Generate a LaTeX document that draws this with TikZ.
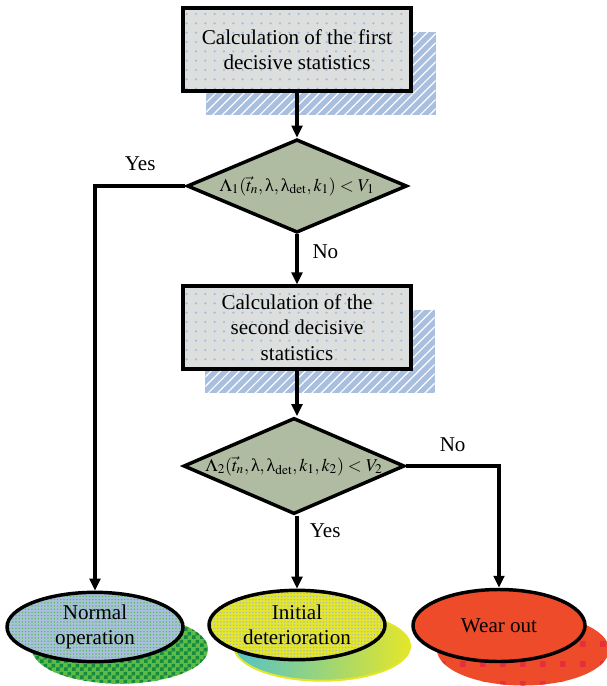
\documentclass[tikz,border=0pt]{standalone}
\usepackage{mathptmx}
\usepackage{fontspec}
\setmainfont{Liberation Serif}
\usetikzlibrary{shapes.geometric,arrows.meta,positioning,calc,patterns,patterns.meta,backgrounds}

\definecolor{boxgray}{HTML}{DDDFDE}
\definecolor{dotblue}{HTML}{A3BCDD}
\definecolor{shadowblue}{HTML}{A9BFE0}
\definecolor{testolive}{HTML}{AFBCA2}
\definecolor{normalblue}{HTML}{A8C0E0}
\definecolor{normalgreen}{HTML}{5DBB46}
\definecolor{darkgreen}{HTML}{168A3E}
\definecolor{inityellow}{HTML}{E4E62A}
\definecolor{initgray}{HTML}{A9B8C8}
\definecolor{initcyan}{HTML}{52C3C9}
\definecolor{wearred}{HTML}{EE4B2B}
\definecolor{wearsquare}{HTML}{E52F3C}

\newcommand{\lam}{\mbox{λ}}

\pgfdeclarepatternformonly{sparse squares}{\pgfqpoint{0pt}{0pt}}{\pgfqpoint{15pt}{15pt}}{\pgfqpoint{15pt}{15pt}}{%
  \pgfpathrectangle{\pgfqpoint{0pt}{0pt}}{\pgfqpoint{4.5pt}{4.5pt}}\pgfusepath{fill}}
\pgfdeclarepatternformonly{fine checker}{\pgfqpoint{0pt}{0pt}}{\pgfqpoint{6pt}{6pt}}{\pgfqpoint{6pt}{6pt}}{%
  \pgfpathrectangle{\pgfqpoint{0pt}{0pt}}{\pgfqpoint{3pt}{3pt}}%
  \pgfpathrectangle{\pgfqpoint{3pt}{3pt}}{\pgfqpoint{3pt}{3pt}}\pgfusepath{fill}}

\begin{document}
\begin{tikzpicture}[
    x=0.75pt, y=-0.75pt,
    font=\fontsize{15.8pt}{19pt}\selectfont,
    calc box/.style={rectangle, draw=black, line width=2.6pt, preaction={fill=boxgray},
        pattern={Dots[distance=7pt,radius=0.9pt]}, pattern color=dotblue,
        minimum width=171pt, minimum height=62pt, align=center, inner sep=2pt},
    box shadow/.style={rectangle, preaction={fill=shadowblue},
        pattern={Lines[angle=45,distance=5pt,line width=0.9pt]}, pattern color=white,
        minimum width=172pt, minimum height=62pt},
    test/.style={diamond, draw=black, line width=2.6pt, fill=testolive,
        aspect=2.3, minimum width=165pt, minimum height=70pt, inner sep=0pt,
        font=\fontsize{13.5pt}{16pt}\selectfont},
    state/.style={ellipse, draw=black, line width=2.6pt, minimum width=132pt,
        minimum height=52pt, align=center, inner sep=0pt},
    state shadow/.style={ellipse, minimum width=132pt, minimum height=52pt},
    arrow/.style={-{Triangle[length=9pt,width=8pt]}, line width=2.6pt}
]
    \useasboundingbox (0,0) rectangle (607,686);

    % Calculation blocks
    \node[calc box] (calc1) at (297,49.5) {Calculation of the first\\decisive statistics};
    \node[calc box] (calc2) at (297,327.5) {Calculation of the\\second decisive\\statistics};

    % Decisions
    \node[test] (test1) at (297,186)
        {$\Lambda_1(\vec{t}_n,\lam,\lam_{\mathrm{det}},k_1)<V_1$};
    \node[test] (test2) at (294,466)
        {$\Lambda_2(\vec{t}_n,\lam,\lam_{\mathrm{det}},k_1,k_2)<V_2$};

    % Resulting states
    \node[state, preaction={fill=normalblue}, pattern={Dots[distance=2.4pt,radius=0.6pt]},
        pattern color=normalgreen] (normal) at (95,627) {Normal\\operation};
    \node[state, preaction={fill=inityellow}, pattern={Dots[distance=2.4pt,radius=0.6pt]},
        pattern color=initgray] (initial) at (297,625) {Initial\\deterioration};
    \node[state, fill=wearred, minimum width=129pt, minimum height=54pt] (wear) at (499,625.5) {Wear out};

    % Shadows
    \begin{scope}[on background layer]
        \node[box shadow] at ($(calc1)+(24,24)$) {};
        \node[box shadow] at ($(calc2)+(23,24)$) {};
        \node[state shadow, preaction={fill=normalgreen}, pattern=fine checker,
            pattern color=darkgreen] at ($(normal)+(25,22)$) {};
        \node[state shadow, draw=inityellow, line width=1.5pt, left color=initcyan,
            right color=inityellow] at ($(initial)+(25,21)$) {};
        \node[state shadow, preaction={fill=wearred}, pattern=sparse squares,
            pattern color=wearsquare, minimum width=129pt, minimum height=54pt] at ($(wear)+(24,24)$) {};
    \end{scope}

    % Connectors
    \draw[arrow] (calc1) -- (test1);
    \draw[arrow] (test1.west) -| node[pos=0.25, above=7pt] {Yes} (normal.north);
    \draw[arrow] (test1) -- node[pos=0.34, right=7pt] {No} (calc2);
    \draw[arrow] (calc2) -- (test2.north -| calc2);
    \draw[arrow] (test2.south -| calc2) -- node[pos=0.21, right=5pt] {Yes} (initial);
    \draw[arrow] (test2.east) -| node[pos=0.25, above=6pt] {No} (wear.north);
\end{tikzpicture}
\end{document}
